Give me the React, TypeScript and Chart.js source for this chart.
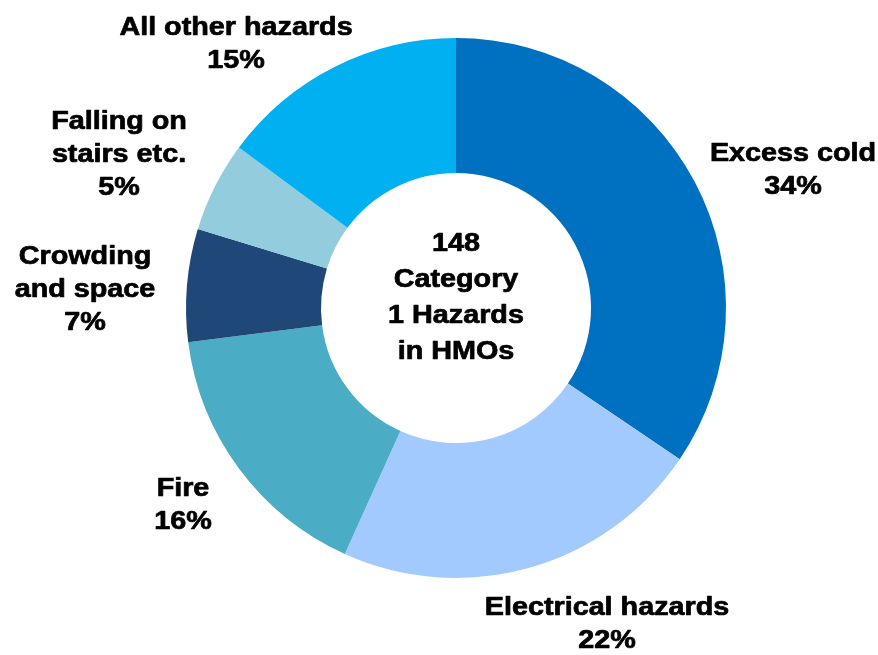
import React, { useEffect, useRef } from "react";
import { Chart, registerables } from "chart.js";

Chart.register(...registerables);

// ---- data ----
const categories = [
  "Excess cold",
  "Electrical hazards",
  "Fire",
  "Crowding and space",
  "Falling on stairs etc.",
  "All other hazards",
];
const labelLines = [
  ["Excess cold"],
  ["Electrical hazards"],
  ["Fire"],
  ["Crowding", "and space"],
  ["Falling on", "stairs etc."],
  ["All other hazards"],
];
const hazardCounts = [51, 33, 24, 10, 8, 22];
const centerLines = ["148", "Category", "1 Hazards", "in HMOs"];

// ---- styles / positions ----
const sliceColors = ["#0070C0", "#A3CAFF", "#4BACC6", "#1F4778", "#93CDDD", "#00B0F0"];
// label block centers relative to donut centre, in units of outer radius
const labelOffsets = [
  [337 / 270, -137 / 270],
  [151 / 270, 317 / 270],
  [-273 / 270, 198 / 270],
  [-371 / 270, -18 / 270],
  [-337 / 270, -153 / 270],
  [-220 / 270, -263 / 270],
];
const FONT = 'bold 25px "Liberation Sans", Arial, sans-serif';
const SCALE_X = 1.15;
const LINE_H = 33;

function drawText(ctx: CanvasRenderingContext2D, text: string, x: number, y: number) {
  ctx.save();
  ctx.translate(x, y);
  ctx.scale(SCALE_X, 1);
  ctx.strokeText(text, 0, 0);
  ctx.fillText(text, 0, 0);
  ctx.restore();
}

const labelPlugin = {
  id: "outerLabels",
  afterDraw(chart: any) {
    const ctx: CanvasRenderingContext2D = chart.ctx;
    const meta = chart.getDatasetMeta(0);
    const first = meta.data[0];
    if (!first) return;
    const cx = first.x;
    const cy = first.y;
    const R = first.outerRadius;
    const data = chart.data.datasets[0].data as number[];
    const total = data.reduce((a, b) => a + b, 0);
    ctx.save();
    ctx.font = FONT;
    ctx.fillStyle = "#000";
    ctx.strokeStyle = "#000";
    ctx.lineWidth = 0.7;
    ctx.lineJoin = "round";
    ctx.textAlign = "center";
    ctx.textBaseline = "middle";
    data.forEach((v, i) => {
      const lines = [...labelLines[i], Math.round((v / total) * 100) + "%"];
      const bx = cx + labelOffsets[i][0] * R;
      const by = cy + labelOffsets[i][1] * R;
      const startY = by - ((lines.length - 1) * LINE_H) / 2;
      lines.forEach((ln, j) => drawText(ctx, ln, bx, startY + j * LINE_H));
    });
    // centre text
    const cLineH = 36;
    const cStart = cy - 10 - ((centerLines.length - 1) * cLineH) / 2;
    centerLines.forEach((ln, j) => drawText(ctx, ln, cx, cStart + j * cLineH));
    ctx.restore();
  },
};

export default function App() {
  const ref = useRef<HTMLCanvasElement | null>(null);
  useEffect(() => {
    if (!ref.current) return;
    const chart = new Chart(ref.current, {
      type: "doughnut",
      data: {
        labels: categories,
        datasets: [
          {
            data: hazardCounts,
            backgroundColor: sliceColors,
            borderWidth: 0,
          },
        ],
      },
      options: {
        responsive: false,
        animation: false,
        cutout: "50%",
        layout: { padding: { top: 38, bottom: 77, left: 34, right: 0 } },
        plugins: {
          legend: { display: false },
          tooltip: { enabled: false },
        },
      },
      plugins: [labelPlugin],
    });
    return () => chart.destroy();
  }, []);
  return (
    <div style={{ position: "absolute", left: 0, top: 0, width: 878, height: 655, background: "#fff" }}>
      <canvas ref={ref} width={878} height={655} />
    </div>
  );
}
